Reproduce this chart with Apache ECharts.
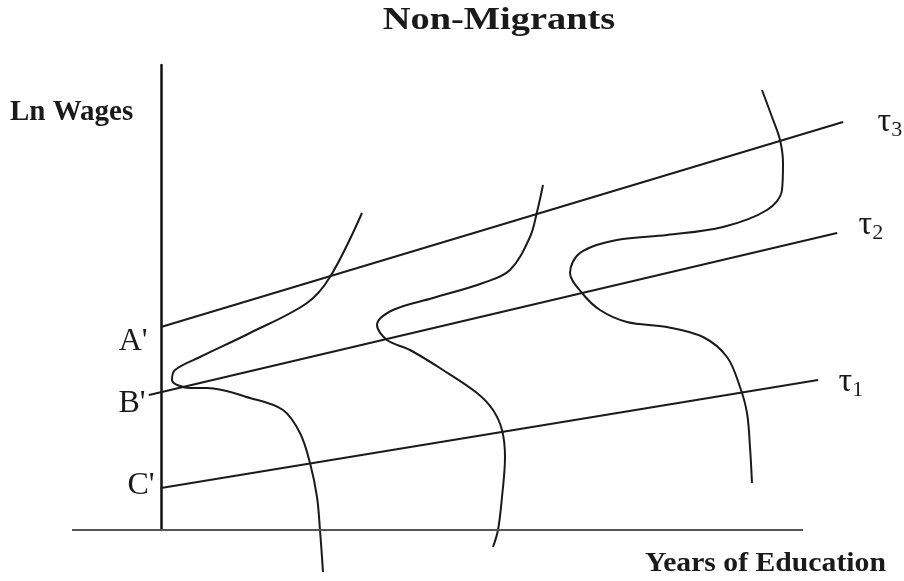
<!DOCTYPE html>
<html>
<head>
<meta charset="utf-8">
<title>Non-Migrants</title>
<script src="https://cdn.jsdelivr.net/npm/echarts@6/dist/echarts.min.js"></script>
<style>
html, body { margin: 0; padding: 0; background: #fff; }
#main { width: 904px; height: 581px; }
</style>
</head>
<body>
<div id="main"></div>
<script>
// 坐标: x = years of education (schematic units), y = ln wages (schematic units)
// 横轴画出来的范围
var xAxisSpan = [-89, 642];

// 三条工资线 tau1 / tau2 / tau3
var tauNames = ['1', '2', '3'];
var tauStart = [[0, 42], [-12, 135], [0, 203]];
var tauEnd = [[657, 150], [676, 297], [682, 408]];
var interceptLabels = ["C'", "B'", "A'"];

// 三条分布曲线
var curve1 = [[201, 317], [169, 253], [146, 227], [89, 197], [39, 173], [14, 160], [11, 150], [29, 142],
  [46, 142], [89, 132], [122, 120], [139, 97], [149, 67], [156, 33], [159, 0], [162, -42]];
var curve2 = [[382, 345], [376, 318], [369, 293], [349, 260], [322, 247], [272, 232], [232, 220], [216, 205],
  [226, 190], [249, 180], [282, 160], [316, 137], [332, 120], [341, 100], [344, 73], [341, 33], [337, 0], [332, -17]];
var curve3 = [[601, 440], [611, 413], [619, 390], [622, 367], [621, 340], [606, 320], [562, 303], [506, 295],
  [456, 290], [419, 277], [409, 257], [421, 237], [439, 220], [466, 208], [506, 203], [542, 193], [566, 173],
  [579, 143], [586, 117], [589, 83], [591, 47]];

var SERIF = '"Liberation Serif", "DejaVu Serif", serif';
var INK = '#1a1a1a';

// label tweaks for each tau line (start label / end label)
var startLabelPos = [{ distance: 6, offset: [0, -2] }, { distance: 3, offset: [0, 9] }, { distance: 13, offset: [0, 15] }];
var endLabelPos = [{ distance: 20, offset: [0, 2] }, { distance: 21, offset: [0, -8] }, { distance: 34, offset: [0, 0] }];

var myChart = echarts.init(document.getElementById('main'));

var series = [];

for (var i = 0; i < tauNames.length; i++) {
  series.push({
    type: 'line',
    name: 'tau' + tauNames[i],
    symbol: 'circle',
    symbolSize: 1,
    clip: false,
    silent: true,
    itemStyle: { color: INK },
    lineStyle: { color: INK, width: 2 },
    data: [
      {
        value: tauStart[i],
        label: {
          show: true,
          position: 'left',
          distance: startLabelPos[i].distance,
          offset: startLabelPos[i].offset,
          formatter: interceptLabels[i],
          fontFamily: SERIF,
          fontSize: 32,
          color: INK
        }
      },
      {
        value: tauEnd[i],
        label: {
          show: true,
          position: 'right',
          distance: endLabelPos[i].distance,
          offset: endLabelPos[i].offset,
          formatter: '{t|τ}{s|' + tauNames[i] + '}',
          rich: {
            t: { fontFamily: SERIF, fontSize: 34, color: INK },
            s: { fontFamily: SERIF, fontSize: 22, color: INK, padding: [16, 0, 0, 0] }
          }
        }
      }
    ]
  });
}

var curves = [curve1, curve2, curve3];
for (var j = 0; j < curves.length; j++) {
  series.push({
    type: 'line',
    name: 'curve' + (j + 1),
    symbol: 'none',
    smooth: 0.35,
    clip: false,
    silent: true,
    lineStyle: { color: INK, width: 2 },
    data: curves[j]
  });
}

// 横轴线 (比坐标系窄, 用 markLine 画)
series[3].markLine = {
  symbol: 'none',
  silent: true,
  animation: false,
  label: { show: false },
  lineStyle: { color: '#555', width: 2, type: 'solid' },
  data: [[{ coord: [xAxisSpan[0], 0] }, { coord: [xAxisSpan[1], 0] }]]
};

var option = {
  backgroundColor: '#fff',
  animation: false,
  grid: { left: 72, right: 43, top: 65, bottom: 51 },
  xAxis: {
    type: 'value',
    min: -89,
    max: 700,
    axisLine: { show: false },
    axisTick: { show: false },
    axisLabel: { show: false },
    splitLine: { show: false }
  },
  yAxis: {
    type: 'value',
    min: 0,
    max: 465,
    axisLine: { show: true, onZero: true, lineStyle: { color: '#111', width: 2.5 } },
    axisTick: { show: false },
    axisLabel: { show: false },
    splitLine: { show: false }
  },
  graphic: [
    {
      type: 'text', x: 499, y: 21, scaleX: 1.2,
      style: { text: 'Non-Migrants', font: 'bold 32px ' + SERIF, fill: INK, textAlign: 'center', textVerticalAlign: 'middle' }
    },
    {
      type: 'text', x: 10, y: 113,
      style: { text: 'Ln Wages', font: 'bold 29px ' + SERIF, fill: INK, textAlign: 'left', textVerticalAlign: 'middle' }
    },
    {
      type: 'text', x: 645, y: 564, scaleX: 1.1,
      style: { text: 'Years of Education', font: 'bold 27px ' + SERIF, fill: INK, textAlign: 'left', textVerticalAlign: 'middle' }
    }
  ],
  series: series
};

myChart.setOption(option);
</script>
</body>
</html>
